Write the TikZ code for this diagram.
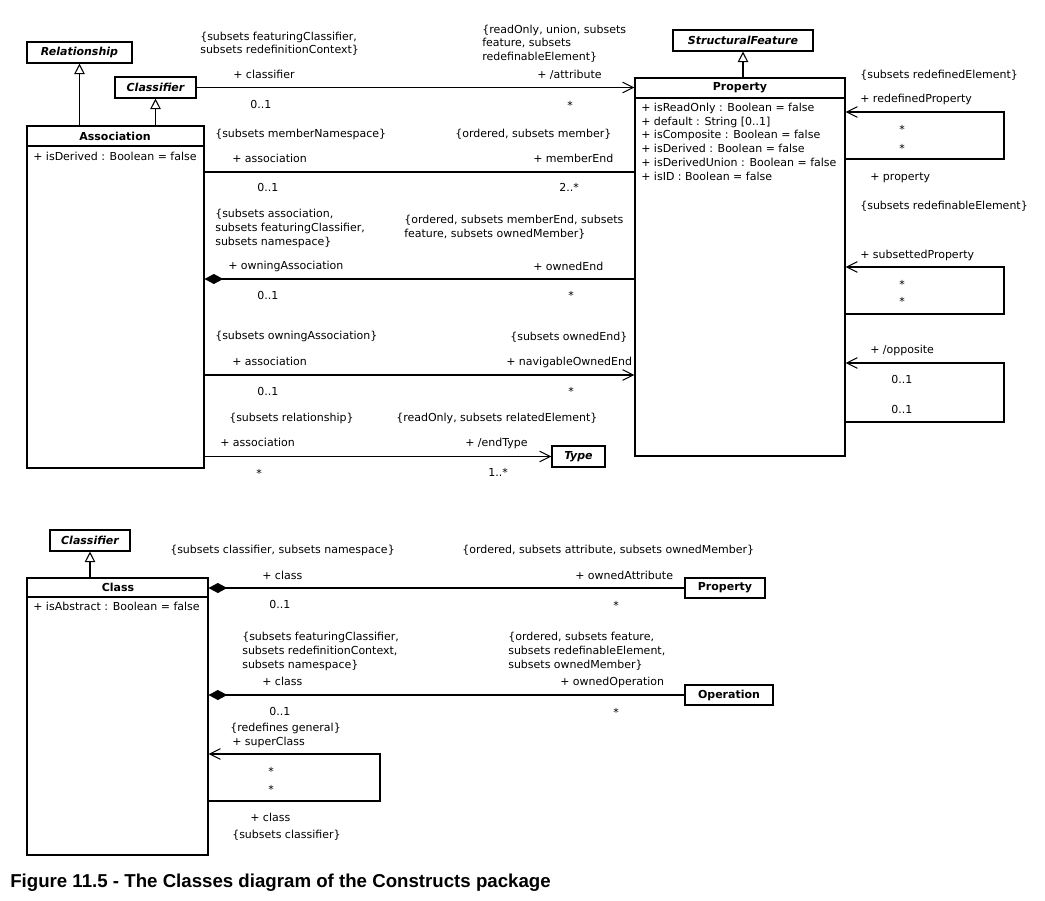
\documentclass[tikz,border=0pt]{standalone}
\usepackage{fontspec}
\setmainfont{DejaVu Sans}
\newfontfamily\capfont{Liberation Sans}
\usetikzlibrary{arrows.meta,fit}
\begin{document}
\begin{tikzpicture}[x=0.75pt,y=-0.75pt,
  every node/.style={font=\fontsize{8.25pt}{10pt}\selectfont},
  lbl/.style={anchor=base west, inner sep=0pt},
  box/.style={draw, line width=0.8pt, inner sep=0pt},
  ttl/.style={inner sep=0pt, font=\fontsize{8.25pt}{10pt}\selectfont\bfseries},
  ttli/.style={inner sep=0pt, font=\fontsize{8.25pt}{10pt}\selectfont\bfseries\itshape},
  conn/.style={line width=0.8pt},
  nav/.style={conn, -{Straight Barb[length=8pt,width=8pt]}},
  gen/.style={conn, -{Triangle[open,length=8pt,width=8pt]}},
  comp/.style={conn, {Diamond[length=14pt,width=7.5pt]}-},
]
\useasboundingbox (0,0) rectangle (1045,900);

% ---------- top diagram: boxes ----------
\node[box, fit={(27,42) (132,63)}, label={[ttli]center:Relationship}] (rel) {};
\node[box, fit={(115,77) (196,98)}, label={[ttli]center:Classifier}] (clsf) {};
\node[box, fit={(673,30) (813,51)}, label={[ttli]center:StructuralFeature}] (sf) {};
\node[box, fit={(552,446) (605,467)}, label={[ttli]center:Type}] (type) {};

\node[box, fit={(27,126) (204,468)}] (assoc) {};
\draw[conn] (assoc.north west |- 0,146) -- (assoc.north east |- 0,146);
\node[ttl] (assoct) at (115,136.5) {Association};
\node[lbl] (assoca) at (33,160) {+ isDerived : Boolean = false};

\node[box, fit={(635,78) (845,456)}] (prop) {};
\draw[conn] (prop.north west |- 0,98) -- (prop.north east |- 0,98);
\node[ttl] (propt) at (740,88) {Property};
\node[lbl] (pa1) at (641,111.5) {+ isReadOnly : Boolean = false};
\node[lbl] (pa2) at (641,125.2) {+ default : String [0..1]};
\node[lbl] (pa3) at (641,138.9) {+ isComposite : Boolean = false};
\node[lbl] (pa4) at (641,152.6) {+ isDerived : Boolean = false};
\node[lbl] (pa5) at (641,166.3) {+ isDerivedUnion : Boolean = false};
\node[lbl] (pa6) at (641,180) {+ isID : Boolean = false};

% generalizations
\draw[gen] (rel.south |- assoc.north) -- (rel.south);
\draw[gen] (clsf.south |- assoc.north) -- (clsf.south);
\draw[gen] (sf.south |- prop.north) -- (sf.south);

% associations
\draw[nav] (clsf.east) -- (prop.west |- clsf.east);
\draw[conn] (assoc.east |- 0,172) -- (prop.west |- 0,172);
\draw[comp] (assoc.east |- 0,279) -- (prop.west |- 0,279);
\draw[nav] (assoc.east |- 0,375) -- (prop.west |- 0,375);
\draw[nav] (assoc.east |- type.west) -- (type.west);

% self loops on Property
\draw[nav] (prop.east |- 0,159) -- (1004,159) -- (1004,112) -- (prop.east |- 0,112);
\draw[nav] (prop.east |- 0,314) -- (1004,314) -- (1004,267) -- (prop.east |- 0,267);
\draw[nav] (prop.east |- 0,422) -- (1004,422) -- (1004,363) -- (prop.east |- 0,363);

% labels: classifier / attribute
\node[lbl] (l1) at (200,40) {\{subsets featuringClassifier,};
\node[lbl] (l2) at (200,53) {subsets redefinitionContext\}};
\node[lbl] (l3) at (233,78) {+ classifier};
\node[lbl] (l4) at (250,108) {0..1};
\node[lbl] (l5) at (482,33) {\{readOnly, union, subsets};
\node[lbl] (l6) at (482,46) {feature, subsets};
\node[lbl] (l7) at (482,60) {redefinableElement\}};
\node[lbl] (l8) at (537,78) {+ /attribute};
\node[lbl] (l9) at (567,109) {*};

% memberEnd
\node[lbl] (m1) at (215,137) {\{subsets memberNamespace\}};
\node[lbl] (m2) at (232,162) {+ association};
\node[lbl] (m3) at (257,191) {0..1};
\node[lbl] (m4) at (455,137) {\{ordered, subsets member\}};
\node[lbl] (m5) at (533,162) {+ memberEnd};
\node[lbl] (m6) at (559,191) {2..*};

% ownedEnd
\node[lbl] (o1) at (215,217) {\{subsets association,};
\node[lbl] (o2) at (215,231) {subsets featuringClassifier,};
\node[lbl] (o3) at (215,245) {subsets namespace\}};
\node[lbl] (o4) at (228,269) {+ owningAssociation};
\node[lbl] (o5) at (257,299) {0..1};
\node[lbl] (o6) at (404,223) {\{ordered, subsets memberEnd, subsets};
\node[lbl] (o7) at (404,237) {feature, subsets ownedMember\}};
\node[lbl] (o8) at (533,270) {+ ownedEnd};
\node[lbl] (o9) at (568,299) {*};

% navigableOwnedEnd
\node[lbl] (n1) at (215,339) {\{subsets owningAssociation\}};
\node[lbl] (n2) at (232,365) {+ association};
\node[lbl] (n3) at (257,395) {0..1};
\node[lbl] (n4) at (510,340) {\{subsets ownedEnd\}};
\node[lbl] (n5) at (506,365) {+ navigableOwnedEnd};
\node[lbl] (n6) at (568,395) {*};

% endType
\node[lbl] (e1) at (229,421) {\{subsets relationship\}};
\node[lbl] (e2) at (220,446) {+ association};
\node[lbl] (e3) at (256,477) {*};
\node[lbl] (e4) at (396,421) {\{readOnly, subsets relatedElement\}};
\node[lbl] (e5) at (465,446) {+ /endType};
\node[lbl] (e6) at (488,476) {1..*};

% right side
\node[lbl] (r1) at (860,78) {\{subsets redefinedElement\}};
\node[lbl] (r2) at (860,102) {+ redefinedProperty};
\node[lbl] (r3) at (899,133) {*};
\node[lbl] (r4) at (899,152) {*};
\node[lbl] (r5) at (870,180) {+ property};
\node[lbl] (r6) at (860,209) {\{subsets redefinableElement\}};
\node[lbl] (s1) at (860,258) {+ subsettedProperty};
\node[lbl] (s2) at (899,288) {*};
\node[lbl] (s3) at (899,305) {*};
\node[lbl] (p1) at (870,353) {+ /opposite};
\node[lbl] (p2) at (891,383) {0..1};
\node[lbl] (p3) at (891,413) {0..1};

% ---------- bottom diagram ----------
\node[box, fit={(50,530) (130,551)}, label={[ttli]center:Classifier}] (clsf2) {};
\node[box, fit={(27,578) (208,855)}] (class) {};
\draw[conn] (class.north west |- 0,597) -- (class.north east |- 0,597);
\node[ttl] (classt) at (118,587.5) {Class};
\node[lbl] (classa) at (33,610) {+ isAbstract : Boolean = false};
\node[box, fit={(685,578) (765,598)}, label={[ttl]center:Property}] (prop2) {};
\node[box, fit={(685,685) (773,705)}, label={[ttl]center:Operation}] (oper) {};

\draw[gen] (clsf2.south |- class.north) -- (clsf2.south);
\draw[comp] (class.east |- prop2.west) -- (prop2.west);
\draw[comp] (class.east |- oper.west) -- (oper.west);
\draw[nav] (class.east |- 0,801) -- (380,801) -- (380,754) -- (class.east |- 0,754);

\node[lbl] (b1) at (170,553) {\{subsets classifier, subsets namespace\}};
\node[lbl] (b2) at (262,579) {+ class};
\node[lbl] (b3) at (269,608) {0..1};
\node[lbl] (b4) at (462,553) {\{ordered, subsets attribute, subsets ownedMember\}};
\node[lbl] (b5) at (575,579) {+ ownedAttribute};
\node[lbl] (b6) at (613,609) {*};

\node[lbl] (c1) at (242,640) {\{subsets featuringClassifier,};
\node[lbl] (c2) at (242,654) {subsets redefinitionContext,};
\node[lbl] (c3) at (242,668) {subsets namespace\}};
\node[lbl] (c4) at (262,685) {+ class};
\node[lbl] (c5) at (269,715) {0..1};
\node[lbl] (c6) at (508,640) {\{ordered, subsets feature,};
\node[lbl] (c7) at (508,654) {subsets redefinableElement,};
\node[lbl] (c8) at (508,668) {subsets ownedMember\}};
\node[lbl] (c9) at (560,685) {+ ownedOperation};
\node[lbl] (c10) at (613,716) {*};

\node[lbl] (d1) at (230,731) {\{redefines general\}};
\node[lbl] (d2) at (232,745) {+ superClass};
\node[lbl] (d3) at (268,775) {*};
\node[lbl] (d4) at (268,793) {*};
\node[lbl] (d5) at (250,821) {+ class};
\node[lbl] (d6) at (232,838) {\{subsets classifier\}};

% caption
\node[anchor=base west, inner sep=0pt, font={\capfont\bfseries\fontsize{14pt}{16pt}\selectfont}] (cap) at (10,887) {Figure 11.5 - The Classes diagram of the Constructs package};
\end{tikzpicture}
\end{document}
